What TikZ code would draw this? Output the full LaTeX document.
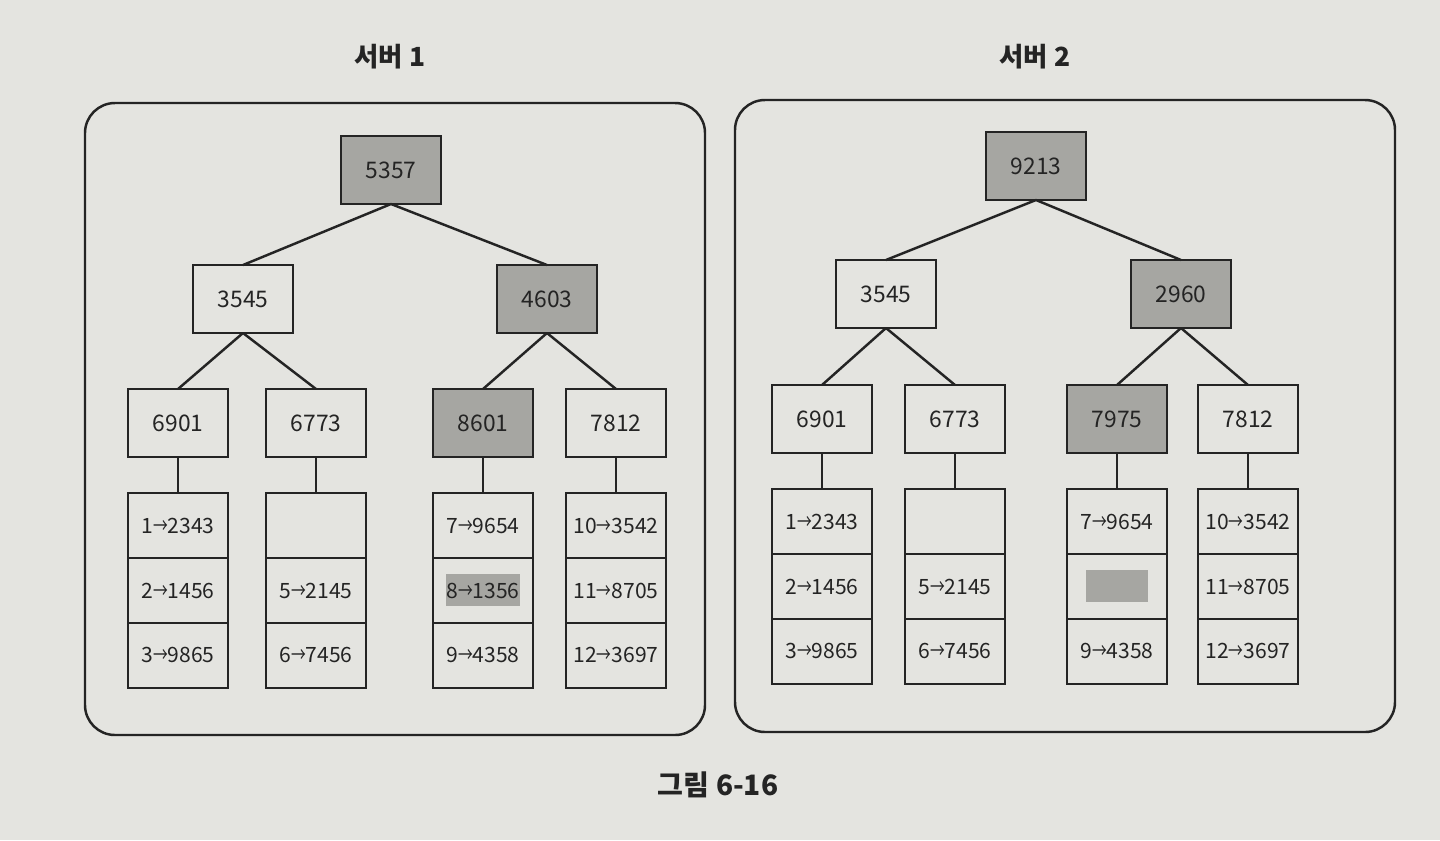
\documentclass[tikz,border=0pt]{standalone}
\usepackage{fontspec}
\setmainfont{Noto Sans CJK KR}
\usetikzlibrary{positioning}
\definecolor{paper}{RGB}{228,228,224}
\definecolor{shade}{RGB}{166,166,162}
\definecolor{ink}{RGB}{36,36,36}
\newcommand{\ra}{\scalebox{0.7}[1]{→}}
\begin{document}
\begin{tikzpicture}[x=0.02cm, y=-0.02cm]
%define
\tikzstyle{hash} = [rectangle, minimum width=2cm, minimum height=1.36cm, text centered, draw=ink, line width=1.4pt, text=ink, outer sep=0pt, font=\fontsize{13}{15}\selectfont]
\tikzstyle{hashg} = [hash, fill=shade]
\tikzstyle{cell} = [rectangle, minimum width=2cm, minimum height=1.3cm, inner xsep=1pt, text centered, draw=ink, line width=1.4pt, text=ink, outer sep=0pt, font=\fontsize{12}{15}\selectfont]
\tikzstyle{hilite} = [rectangle, minimum width=1.36cm, minimum height=0.64cm, inner sep=0pt, fill=shade, text=ink, font=\fontsize{12}{15}\selectfont]
\tikzstyle{server} = [draw=ink, line width=1.4pt, rounded corners=0.6cm]
\tikzstyle{line} = [draw=ink, line width=1.4pt]
\tikzstyle{title} = [text=ink, font=\bfseries\fontsize{15}{18}\selectfont]

%paper
\fill[paper](0,0)rectangle(1440,840);
%frames
\draw[server](85,103)rectangle(705,735);
\draw[server](735,100)rectangle(1395,732);
\node[title](title1) at (390,57){서버 1};
\node[title](title2) at (1035,57){서버 2};
\node[title, font=\bfseries\fontsize{16}{19}\selectfont](caption) at (718,785){그림 6-16};

%server 1
\node[hashg](s1root) at (391,170){5357};
\node[hash](s1a) at (243,299){3545};
\node[hashg](s1b) at (547,299){4603};
\node[hash](s1aa) at (178,423){6901};
\node[hash](s1ab) at (316,423){6773};
\node[hashg](s1ba) at (483,423){8601};
\node[hash](s1bb) at (616,423){7812};
\node[cell, below=0.72cm of s1aa](s1c1){1\ra2343};
\node[cell, below=0pt of s1c1](s1c2){2\ra1456};
\node[cell, below=0pt of s1c2](s1c3){3\ra9865};
\node[cell, below=0.72cm of s1ab](s1c4){};
\node[cell, below=0pt of s1c4](s1c5){5\ra2145};
\node[cell, below=0pt of s1c5](s1c6){6\ra7456};
\node[cell, below=0.72cm of s1ba](s1c7){7\ra9654};
\node[cell, below=0pt of s1c7](s1c8){};
\node[cell, below=0pt of s1c8](s1c9){9\ra4358};
\node[cell, below=0.72cm of s1bb](s1c10){10\ra3542};
\node[cell, below=0pt of s1c10](s1c11){11\ra8705};
\node[cell, below=0pt of s1c11](s1c12){12\ra3697};
\node[hilite](s1diff) at (s1c8){8\ra1356};

%server 2
\node[hashg](s2root) at (1036,166){9213};
\node[hash](s2a) at (886,294){3545};
\node[hashg](s2b) at (1181,294){2960};
\node[hash](s2aa) at (822,419){6901};
\node[hash](s2ab) at (955,419){6773};
\node[hashg](s2ba) at (1117,419){7975};
\node[hash](s2bb) at (1248,419){7812};
\node[cell, below=0.72cm of s2aa](s2c1){1\ra2343};
\node[cell, below=0pt of s2c1](s2c2){2\ra1456};
\node[cell, below=0pt of s2c2](s2c3){3\ra9865};
\node[cell, below=0.72cm of s2ab](s2c4){};
\node[cell, below=0pt of s2c4](s2c5){5\ra2145};
\node[cell, below=0pt of s2c5](s2c6){6\ra7456};
\node[cell, below=0.72cm of s2ba](s2c7){7\ra9654};
\node[cell, below=0pt of s2c7](s2c8){};
\node[cell, below=0pt of s2c8](s2c9){9\ra4358};
\node[cell, below=0.72cm of s2bb](s2c10){10\ra3542};
\node[cell, below=0pt of s2c10](s2c11){11\ra8705};
\node[cell, below=0pt of s2c11](s2c12){12\ra3697};
\node[hilite, minimum width=1.24cm](s2diff) at (s2c8){};

%line
\draw[line](s1root.south)--(s1a.north);
\draw[line](s1root.south)--(s1b.north);
\draw[line](s1a.south)--(s1aa.north);
\draw[line](s1a.south)--(s1ab.north);
\draw[line](s1b.south)--(s1ba.north);
\draw[line](s1b.south)--(s1bb.north);
\draw[line](s1aa.south)--(s1c1.north);
\draw[line](s1ab.south)--(s1c4.north);
\draw[line](s1ba.south)--(s1c7.north);
\draw[line](s1bb.south)--(s1c10.north);
\draw[line](s2root.south)--(s2a.north);
\draw[line](s2root.south)--(s2b.north);
\draw[line](s2a.south)--(s2aa.north);
\draw[line](s2a.south)--(s2ab.north);
\draw[line](s2b.south)--(s2ba.north);
\draw[line](s2b.south)--(s2bb.north);
\draw[line](s2aa.south)--(s2c1.north);
\draw[line](s2ab.south)--(s2c4.north);
\draw[line](s2ba.south)--(s2c7.north);
\draw[line](s2bb.south)--(s2c10.north);

\end{tikzpicture}
\end{document}
